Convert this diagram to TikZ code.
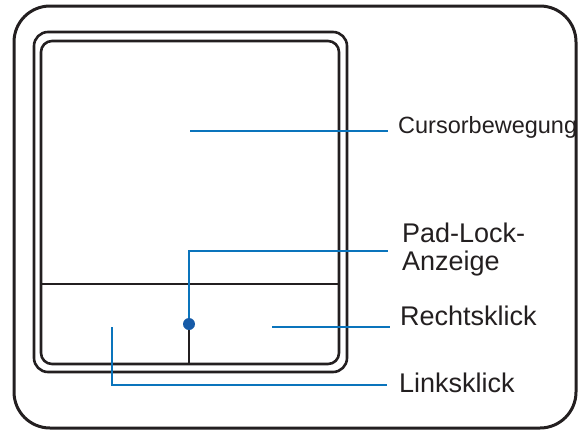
\documentclass[tikz,border=0pt]{standalone}
\usepackage{fontspec}
\setmainfont{Liberation Sans}
\usetikzlibrary{positioning}
\definecolor{ink}{HTML}{231F20}
\definecolor{callout}{HTML}{0A74BC}
\definecolor{led}{HTML}{165BA8}

\begin{document}
\begin{tikzpicture}[x=1pt,y=-1pt,
    frame/.style={draw=ink,line width=2.6pt,rounded corners=#1},
    lead/.style={draw=callout,line width=2.4pt},
    lbl/.style={anchor=base west,inner sep=0pt,text=ink,font=\fontsize{27}{30}\selectfont}]
    \useasboundingbox (0,0) rectangle (582,432);
    % housing and pad
    \draw[frame=36pt,line width=3pt] (14,6) rectangle (576,428);
    \draw[frame=14pt] (34,32) rectangle (347,372);
    \draw[frame=11pt] (41,41) rectangle (339,364);
    \draw[ink,line width=2.6pt] (41,284) -- (339,284);
    \draw[ink,line width=2.6pt] (189,284) -- (189,364);
    \node[circle,fill=led,minimum size=12pt,inner sep=0pt] (lock) at (189,324) {};

    % labels
    \node[lbl,font=\fontsize{23.5}{27}\selectfont] (cursor) at (398,133) {Cursorbewegung};
    \node[lbl] (padlock) at (402,242) {Pad-Lock-};
    \node[lbl] (anzeige) at (402,270) {Anzeige};
    \node[lbl] (rechts) at (400,325) {Rechtsklick};
    \node[lbl] (links) at (399,392) {Linksklick};

    % callout ends
    \coordinate (cursor-tip) at (190,131);
    \coordinate (cursor-end) at (388,131);
    \coordinate (lock-end) at (388,251);
    \coordinate (rechts-tip) at (272,327);
    \coordinate (rechts-end) at (390,327);
    \coordinate (links-tip) at (112,327);
    \coordinate (links-end) at (387,385);

    \draw[lead] (cursor-tip) -- (cursor-end);
    \draw[lead] (lock) |- (lock-end);
    \draw[lead] (rechts-tip) -- (rechts-end);
    \draw[lead] (links-tip) |- (links-end);
\end{tikzpicture}
\end{document}
